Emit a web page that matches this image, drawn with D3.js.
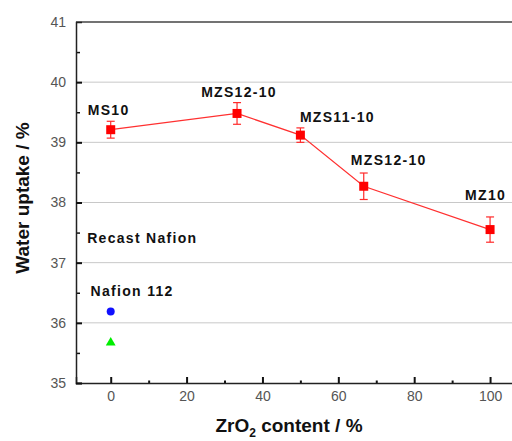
<!DOCTYPE html>
<html>
<head>
<meta charset="utf-8">
<script src="https://cdn.jsdelivr.net/npm/d3@7"></script>
<style>
  body { margin: 0; background: #fff; }
  svg { display: block; font-family: Arial, "Liberation Sans", sans-serif; }
</style>
</head>
<body>
<svg id="chart"></svg>
<script>
(() => {

  // ZrO2 series (red squares)
  const samples = ['MS10', 'MZS12-10', 'MZS11-10', 'MZS12-10', 'MZ10'];
  const zro2 = [0, 33.3, 50, 66.7, 100];
  const uptake = [39.21, 39.48, 39.12, 38.27, 37.55];
  const uptakeErr = [0.14, 0.18, 0.12, 0.22, 0.21];

  // reference membranes at 0 %
  const refNames = ['Nafion 112', 'Recast Nafion'];
  const refX = [0, 0];
  const refUptake = [36.19, 35.67];

  // free labels for the reference membranes
  const noteText = ['Recast Nafion', 'Nafion 112'];
  const noteX = [-6.2, -5.3];
  const noteY = [37.33, 36.44];

  const xTicks = [0, 20, 40, 60, 80, 100];
  const yTicks = [35, 36, 37, 38, 39, 40, 41];

  // label offsets from each point (px): [dx, dy, anchor]
  const labelOffset = [[-23, -15, 'start'], [2, -16.5, 'middle'], [37, -13, 'middle'], [25, -21, 'middle'], [-25, -30, 'start']];

  const svgWidth = 512;
  const svgHeight = 441;

  const svg = d3.select('#chart')
    .attr('width', svgWidth)
    .attr('height', svgHeight);

  const xScale = d3.scaleLinear()
    .domain([-9.15, 110])
    .range([76, 528]);

  const yScale = d3.scaleLinear()
    .domain([35, 41])
    .range([383, 22]);

  // grid
  svg.append('g')
    .selectAll('line')
    .data(yTicks.filter(v => v > 35 && v < 41))
    .enter()
    .append('line')
    .attr('x1', 76).attr('x2', svgWidth)
    .attr('y1', d => yScale(d)).attr('y2', d => yScale(d))
    .attr('stroke', '#c8c8c8')
    .attr('stroke-width', 1);

  // top frame
  svg.append('line')
    .attr('x1', 76).attr('x2', svgWidth)
    .attr('y1', yScale(41)).attr('y2', yScale(41))
    .attr('stroke', '#444').attr('stroke-width', 1.5);

  // minor ticks
  const xMinor = d3.range(10, 110, 20);
  const yMinor = d3.range(35.5, 41, 1);

  svg.append('g')
    .attr('transform', `translate(0, ${yScale(35)})`)
    .call(d3.axisBottom(xScale).tickValues(xMinor).tickSize(-2.5).tickFormat(''))
    .call(g => g.select('.domain').remove())
    .selectAll('line').attr('stroke', '#111').attr('stroke-width', 2);

  svg.append('g')
    .attr('transform', `translate(${xScale.range()[0]}, 0)`)
    .call(d3.axisLeft(yScale).tickValues(yMinor).tickSize(-4).tickFormat(''))
    .call(g => g.select('.domain').remove())
    .selectAll('line').attr('stroke', '#111').attr('stroke-width', 1.5);

  // main axes
  const xAxis = svg.append('g')
    .attr('transform', `translate(0, ${yScale(35)})`)
    .call(d3.axisBottom(xScale).tickValues(xTicks).tickSize(-6).tickPadding(8).tickFormat(d3.format('d')));

  const yAxis = svg.append('g')
    .attr('transform', `translate(${xScale.range()[0]}, 0)`)
    .call(d3.axisLeft(yScale).tickValues(yTicks).tickSize(-6).tickPadding(10).tickFormat(d3.format('d')));

  [xAxis, yAxis].forEach(axis => {
    axis.select('.domain').attr('stroke', '#222').attr('stroke-width', 1.5);
    axis.selectAll('.tick line').attr('stroke', '#111').attr('stroke-width', 2);
    axis.selectAll('.tick text')
      .attr('fill', '#555')
      .style('font-size', '14px')
      .style('font-family', 'Arial, "Liberation Sans", sans-serif');
  });
  yAxis.selectAll('.tick').filter(d => d === 41).select('line').remove();

  // series line
  const points = zro2.map((x, i) => ({ x: x, y: uptake[i], err: uptakeErr[i], name: samples[i] }));

  const line = d3.line()
    .x(d => xScale(d.x))
    .y(d => yScale(d.y));

  svg.append('path')
    .datum(points)
    .attr('fill', 'none')
    .attr('stroke', '#ff3030')
    .attr('stroke-width', 1.2)
    .attr('d', line);

  // error bars
  const err = svg.append('g')
    .selectAll('g')
    .data(points)
    .enter()
    .append('g')
    .attr('stroke', '#ff2a2a')
    .attr('stroke-width', 1.2);

  err.append('line')
    .attr('x1', d => xScale(d.x)).attr('x2', d => xScale(d.x))
    .attr('y1', d => yScale(d.y - d.err)).attr('y2', d => yScale(d.y + d.err));
  err.append('line')
    .attr('x1', d => xScale(d.x) - 4).attr('x2', d => xScale(d.x) + 4)
    .attr('y1', d => yScale(d.y + d.err)).attr('y2', d => yScale(d.y + d.err));
  err.append('line')
    .attr('x1', d => xScale(d.x) - 4).attr('x2', d => xScale(d.x) + 4)
    .attr('y1', d => yScale(d.y - d.err)).attr('y2', d => yScale(d.y - d.err));

  // square markers
  svg.append('g')
    .selectAll('rect')
    .data(points)
    .enter()
    .append('rect')
    .attr('x', d => xScale(d.x) - 4.5)
    .attr('y', d => yScale(d.y) - 4.5)
    .attr('width', 9)
    .attr('height', 9)
    .attr('fill', '#ff0000');

  // point labels
  svg.append('g')
    .selectAll('text')
    .data(points)
    .enter()
    .append('text')
    .attr('x', (d, i) => xScale(d.x) + labelOffset[i][0])
    .attr('y', (d, i) => yScale(d.y) + labelOffset[i][1])
    .attr('text-anchor', (d, i) => labelOffset[i][2])
    .style('font-size', '14px')
    .style('font-weight', 'bold')
    .style('letter-spacing', '1.3px')
    .attr('fill', '#111')
    .text(d => d.name);

  // reference membranes
  svg.append('circle')
    .attr('cx', xScale(refX[0]))
    .attr('cy', yScale(refUptake[0]))
    .attr('r', 4)
    .attr('fill', '#1010ff');

  svg.append('path')
    .attr('transform', `translate(${xScale(refX[1])}, ${yScale(refUptake[1])})`)
    .attr('d', d3.symbol(d3.symbolTriangle, 42)())
    .attr('fill', '#00ee00');

  svg.append('g')
    .selectAll('text')
    .data(noteText)
    .enter()
    .append('text')
    .attr('x', (d, i) => xScale(noteX[i]))
    .attr('y', (d, i) => yScale(noteY[i]))
    .style('font-size', '14px')
    .style('font-weight', 'bold')
    .style('letter-spacing', '1.3px')
    .attr('fill', '#111')
    .text(d => d);

  // axis titles
  svg.append('text')
    .attr('transform', 'translate(29, 198) rotate(-90)')
    .attr('text-anchor', 'middle')
    .style('font-size', '19px')
    .style('font-weight', 'bold')
    .attr('fill', '#111')
    .text('Water uptake / %');

  const xTitle = svg.append('text')
    .attr('x', 289)
    .attr('y', 432)
    .attr('text-anchor', 'middle')
    .style('font-size', '19px')
    .style('font-weight', 'bold')
    .attr('fill', '#111');
  xTitle.append('tspan').text('ZrO');
  xTitle.append('tspan').attr('dy', 5).style('font-size', '12px').text('2');
  xTitle.append('tspan').attr('dy', -5).text(' content / %');

})();
</script>
</body>
</html>
